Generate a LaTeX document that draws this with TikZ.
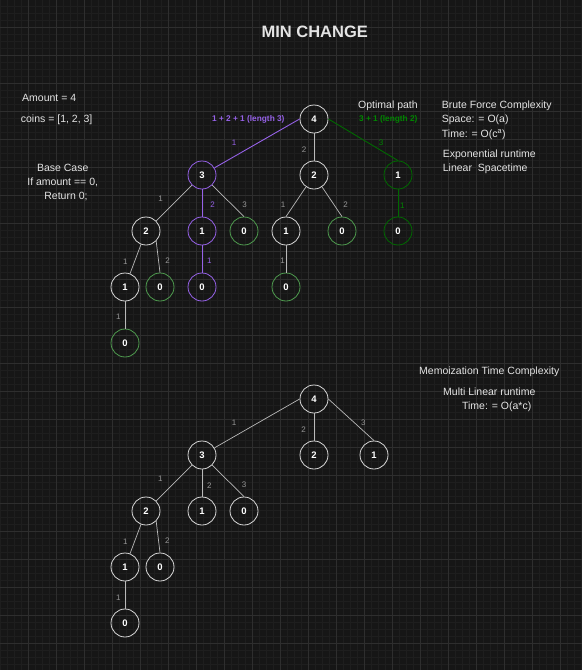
\documentclass[tikz,border=0pt]{standalone}
\usepackage{fontspec}
\setmainfont{Liberation Sans}
\definecolor{bg}{RGB}{22,22,22}
\definecolor{minorgrid}{RGB}{30,30,30}
\definecolor{majorgrid}{RGB}{46,46,46}
\definecolor{nodegray}{RGB}{215,215,215}
\definecolor{edgegray}{RGB}{185,185,185}
\definecolor{labelgray}{RGB}{150,150,150}
\definecolor{txt}{RGB}{228,228,228}
\definecolor{purp}{RGB}{150,98,232}
\definecolor{lgreen}{RGB}{78,155,78}
\definecolor{dgreen}{RGB}{0,105,0}
\definecolor{dgreentext}{RGB}{0,135,0}
\tikzset{
  cnode/.style={circle, minimum size=28pt, inner sep=0pt, line width=0.8pt, text=white,
                font=\bfseries\fontsize{9.5}{10}\selectfont},
  wnode/.style={cnode, draw=nodegray},
  pnode/.style={cnode, draw=purp},
  gnode/.style={cnode, draw=lgreen},
  dgnode/.style={cnode, draw=dgreen},
  wedge/.style={draw=edgegray, line width=0.7pt},
  pedge/.style={draw=purp, line width=0.9pt},
  gedge/.style={draw=dgreen, line width=0.9pt},
  elabel/.style={font=\fontsize{8}{9}\selectfont, text=labelgray, inner sep=0pt},
  plabel/.style={elabel, text=purp},
  glabel/.style={elabel, text=dgreentext},
  body/.style={font=\fontsize{10.5}{12}\selectfont, text=txt, inner sep=0pt},
  bodyl/.style={body, anchor=base west},
  bodyc/.style={body, anchor=base},
}
\begin{document}
\begin{tikzpicture}[x=1pt,y=-1pt]
\fill[bg] (0,0) rectangle (582,670);
\useasboundingbox (0,0) rectangle (582,670);
% grid
\foreach \i in {0,...,83} \draw[minorgrid, line width=0.5pt] ({0.3+7*\i},0) -- ++(0,670);
\foreach \i in {0,...,96} \draw[minorgrid, line width=0.5pt] (0,{6.3+7*\i}) -- ++(582,0);
\foreach \i in {0,...,20} \draw[majorgrid, line width=0.7pt] ({28.3+28*\i},0) -- ++(0,670);
\foreach \i in {0,...,23} \draw[majorgrid, line width=0.7pt] (0,{27.3+28*\i}) -- ++(582,0);

% title and texts
\node[bodyc, font=\bfseries\fontsize{16.5}{18}\selectfont, text=txt] (title) at (314.7,37.6) {MIN CHANGE};
\node[bodyl] (amount) at (22,101) {Amount = 4};
\node[bodyl] (coins) at (20.7,122.7) {coins = [1, 2, 3]};
\node[bodyc] (bc1) at (62.7,171.4) {Base Case};
\node[bodyc] (bc2) at (62.7,185.4) {If amount == 0,};
\node[bodyc] (bc3) at (66,199.4) {Return 0;};
\node[plabel, anchor=base, font=\bfseries\fontsize{8.3}{9}\selectfont] (plen) at (248.3,121.9) {1 + 2 + 1 (length 3)};
\node[bodyc] (opt) at (388,108) {Optimal path};
\node[glabel, anchor=base, font=\bfseries\fontsize{8.3}{9}\selectfont] (glen) at (388.3,121.9) {3 + 1 (length 2)};
\node[bodyl] (bf1) at (441.7,108) {Brute Force Complexity};
\node[bodyl] (bf2) at (441.7,122.7) {Space: = O(a)};
\node[bodyl] (bf3) at (441.7,137) {Time: = O(c\textsuperscript{a})};
\node[bodyl] (bf4) at (442.7,157) {Exponential runtime};
\node[bodyl] (bf5) at (442.7,171.4) {Linear\ \ Spacetime};
\node[bodyc] (mm1) at (489.3,374.4) {Memoization Time Complexity};
\node[bodyc] (mm2) at (489.3,395.4) {Multi Linear runtime};
\node[bodyc] (mm3) at (496.7,409.4) {Time: = O(a*c)};

% ---------- top tree ----------
\node[wnode] (t4) at (314,119) {4};
\node[pnode] (t3) at (202,175) {3};
\node[wnode] (t2) at (314,175) {2};
\node[dgnode] (t1g) at (398,175) {1};
\node[wnode] (t32) at (146,231) {2};
\node[pnode] (t31) at (202,231) {1};
\node[gnode] (t30) at (244,231) {0};
\node[wnode] (t21) at (286,231) {1};
\node[gnode] (t20) at (342,231) {0};
\node[dgnode] (t1g0) at (398,231) {0};
\node[wnode] (t321) at (125,287) {1};
\node[gnode] (t320) at (160,287) {0};
\node[pnode] (t310) at (202,287) {0};
\node[gnode] (t210) at (286,287) {0};
\node[gnode] (t3210) at (125,343) {0};

\draw[pedge] (t4.west) -- (t3);
\draw[wedge] (t4) -- (t2);
\draw[gedge] (t4.east) -- (t1g.north);
\draw[wedge] (t3) -- (t32);
\draw[pedge] (t3) -- (t31);
\draw[wedge] (t3) -- (t30.north);
\draw[wedge] (t2) -- (t21.north);
\draw[wedge] (t2) -- (t20.north);
\draw[gedge] (t1g) -- (t1g0);
\draw[wedge] (t32) -- (t321);
\draw[wedge] (t32.south east) -- (t320.north);
\draw[pedge] (t31) -- (t310);
\draw[wedge] (t21) -- (t210);
\draw[wedge] (t321) -- (t3210);

\node[plabel] (lt43) at (234,142.7) {1};
\node[elabel] (lt42) at (304,150) {2};
\node[glabel] (lt41) at (381,142.7) {3};
\node[elabel] (lt332) at (160.7,199) {1};
\node[plabel] (lt331) at (212.7,205) {2};
\node[elabel] (lt330) at (244.7,205) {3};
\node[elabel] (lt221) at (283,205) {1};
\node[elabel] (lt220) at (345.7,205) {2};
\node[glabel] (lt1g) at (402.3,206) {1};
\node[elabel] (lt321) at (125.3,262) {1};
\node[elabel] (lt320) at (167.7,261) {2};
\node[plabel] (lt310) at (209.3,261) {1};
\node[elabel] (lt210) at (282.7,261) {1};
\node[elabel] (lt3210) at (118.3,317) {1};

% ---------- bottom tree ----------
\node[wnode] (b4) at (314,399) {4};
\node[wnode] (b3) at (202,455) {3};
\node[wnode] (b2) at (314,455) {2};
\node[wnode] (b1) at (374,455) {1};
\node[wnode] (b32) at (146,511) {2};
\node[wnode] (b31) at (202,511) {1};
\node[wnode] (b30) at (244,511) {0};
\node[wnode] (b321) at (125,567) {1};
\node[wnode] (b320) at (160,567) {0};
\node[wnode] (b3210) at (125,623) {0};

\draw[wedge] (b4.west) -- (b3);
\draw[wedge] (b4) -- (b2);
\draw[wedge] (b4.east) -- (b1.north);
\draw[wedge] (b3) -- (b32);
\draw[wedge] (b3) -- (b31);
\draw[wedge] (b3) -- (b30.north);
\draw[wedge] (b32) -- (b321);
\draw[wedge] (b32.south east) -- (b320.north);
\draw[wedge] (b321) -- (b3210);

\node[elabel] (lb43) at (234,422.7) {1};
\node[elabel] (lb42) at (303.7,430) {2};
\node[elabel] (lb41) at (363.3,422.7) {3};
\node[elabel] (lb332) at (160.3,479) {1};
\node[elabel] (lb331) at (209.3,486) {2};
\node[elabel] (lb330) at (244,485) {3};
\node[elabel] (lb321) at (125.3,542) {1};
\node[elabel] (lb320) at (167.3,541) {2};
\node[elabel] (lb3210) at (118.3,597.3) {1};
\end{tikzpicture}
\end{document}
